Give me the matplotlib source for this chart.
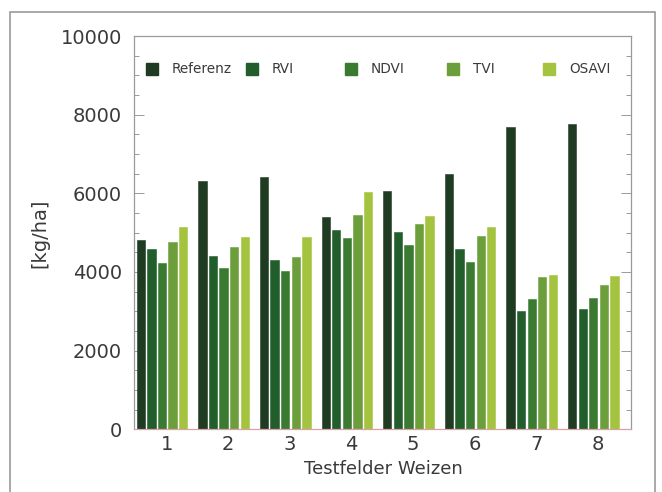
"""Ertrag Winterweizen: Referenz vs. Vegetationsindizes je Testfeld."""

import matplotlib

matplotlib.use("Agg")
import matplotlib.pyplot as plt  # noqa: E402
import numpy as np  # noqa: E402
from matplotlib.patches import Rectangle  # noqa: E402

FELDER = ["1", "2", "3", "4", "5", "6", "7", "8"]
SERIEN = ["Referenz", "RVI", "NDVI", "TVI", "OSAVI"]
REFERENZ = [4810, 6310, 6410, 5400, 6060, 6490, 7690, 7750]
RVI = [4580, 4410, 4310, 5070, 5020, 4590, 3020, 3050]
NDVI = [4240, 4110, 4020, 4860, 4680, 4260, 3310, 3330]
TVI = [4760, 4630, 4370, 5450, 5230, 4910, 3880, 3660]
OSAVI = [5140, 4900, 4900, 6030, 5430, 5150, 3930, 3910]
WERTE = [REFERENZ, RVI, NDVI, TVI, OSAVI]

FARBEN = ["#1f3b22", "#215e2b", "#3b7b31", "#6c9f3b", "#a4c43f"]
TEXT = "#3a3a3a"
RAHMEN = "#9a9a9a"

fig = plt.figure(figsize=(6.62, 4.92), dpi=100)
fig.patch.set_facecolor("white")

# grauer Rahmen um die Abbildung (unten abgeschnitten)
fig.patches.append(Rectangle((9.5 / 662, -0.1), (655 - 9.5) / 662, 1.1 - 11.5 / 492,
                             transform=fig.transFigure, fill=False,
                             edgecolor=RAHMEN, linewidth=1.2))

ax = fig.add_axes([134.3 / 662, 1 - 429.3 / 492, (631 - 134.3) / 662, (429.3 - 36) / 492])

x = np.arange(1, len(FELDER) + 1) - 0.075
pitch, width = 0.172, 0.135
centers = []
for j, (name, vals, col) in enumerate(zip(SERIEN, WERTE, FARBEN)):
    pos = x + (j - 2) * pitch
    centers.extend(pos)
    ax.bar(pos, vals, width, color=col, edgecolor=col, linewidth=0.4, label=name, zorder=2)

ax.set_xlim(0.475, 8.537)
ax.set_ylim(0, 10000)
ax.set_xticks(np.arange(1, len(FELDER) + 1))
ax.set_xticklabels(FELDER)
ax.set_xticks(centers, minor=True)
ax.set_yticks(np.arange(0, 10001, 2000))
ax.set_yticks(np.arange(0, 10001, 500), minor=True)

ax.tick_params(axis="x", which="major", length=0, pad=4, labelsize=14, labelcolor=TEXT)
ax.tick_params(axis="x", which="minor", direction="in", length=4, width=0.8,
               color="#2a2a2a", top=False)
ax.tick_params(axis="y", which="major", direction="in", length=7, width=0.7,
               color=RAHMEN, right=True, pad=9, labelsize=14, labelcolor=TEXT)
ax.tick_params(axis="y", which="minor", direction="in", length=3.5, width=0.7,
               color=RAHMEN, right=True)
for s in ax.spines.values():
    s.set_color(RAHMEN)
    s.set_linewidth(0.9)
ax.spines["bottom"].set_color("#d9a0a8")

# Legende: Kästchen + Beschriftung, eine Zeile im Diagramm
leg_x = [152, 252, 351, 453, 549]
for lx, name, col in zip(leg_x, SERIEN, FARBEN):
    fx = (lx - 134.3) / (631 - 134.3)
    fy = (429.3 - 69) / (429.3 - 36)
    ax.add_patch(Rectangle((fx - 6 / 496.7, fy - 6 / 393.3), 12 / 496.7, 12 / 393.3,
                           transform=ax.transAxes, facecolor=col, edgecolor=col,
                           zorder=3, clip_on=False))
    ax.text(fx + 20 / 496.7, fy, name, transform=ax.transAxes, fontsize=9.8,
            color=TEXT, va="center", ha="left")

fig.text(40 / 662, 1 - 233 / 492, "[kg/ha]", rotation=90, fontsize=14,
         color=TEXT, ha="center", va="center")
fig.text(383 / 662, 1 - 469 / 492, "Testfelder Weizen", fontsize=13,
         color=TEXT, ha="center", va="center")

fig.savefig("out.png", dpi=100)
